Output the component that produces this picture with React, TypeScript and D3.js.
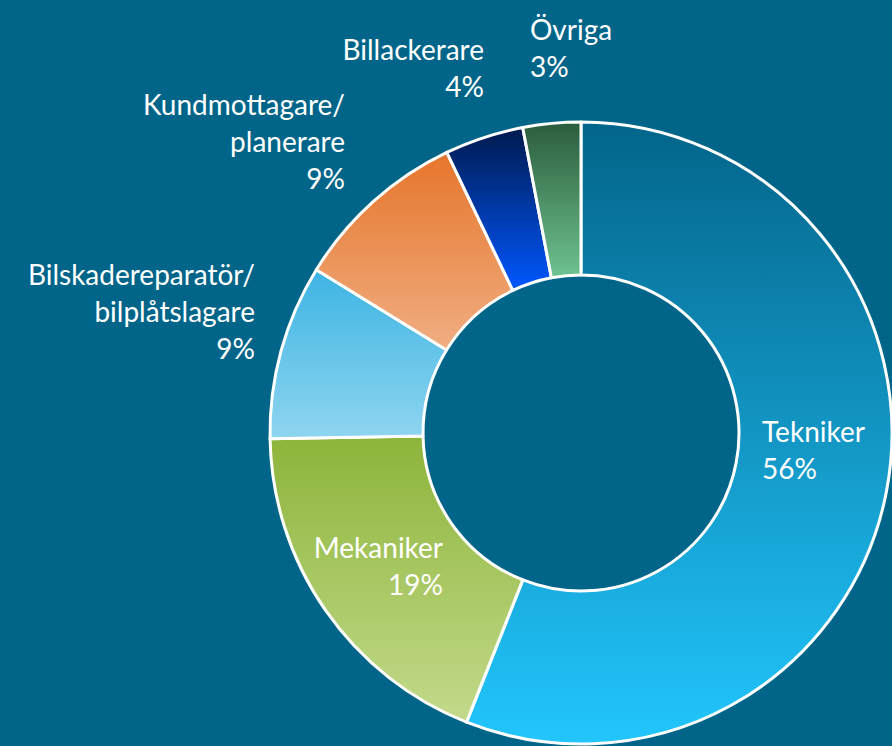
import React from 'react';
import * as d3 from 'd3';

// share of employees per occupation (%), clockwise from 12 o'clock
const categories = ['Tekniker', 'Mekaniker', 'Bilskadereparatör/bilplåtslagare', 'Kundmottagare/planerare', 'Billackerare', 'Övriga'];
const values = [56.0, 18.7, 9.1, 9.1, 4.1, 3.0];
const labelLines = [
  ['Tekniker', '56%'],
  ['Mekaniker', '19%'],
  ['Bilskadereparatör/', 'bilplåtslagare', '9%'],
  ['Kundmottagare/', 'planerare', '9%'],
  ['Billackerare', '4%'],
  ['Övriga', '3%'],
];
const gradTop = ['#03658a', '#8db43a', '#3db4e3', '#e6752b', '#001a4d', '#2b5c3c'];
const gradBottom = ['#22c6fd', '#c3da8b', '#8fd5f0', '#f0ae82', '#0057ff', '#6ec291'];

const width = 892;
const height = 746;
const cx = 581;
const cy = 433;
const outerR = 311;
const innerR = 158;

// label anchor per slice: x, first baseline, anchor
const labelPos: [number, number, 'start' | 'end'][] = [
  [762, 442, 'start'],
  [443, 558, 'end'],
  [255, 285, 'end'],
  [345, 115, 'end'],
  [484, 60, 'end'],
  [530, 40, 'start'],
];
const lineGap = 37;

const App = () => {
  const pie = d3.pie<number>().sort(null).value(d => d);
  const arcs = pie(values);
  const arc = d3.arc<d3.PieArcDatum<number>>().innerRadius(innerR).outerRadius(outerR);

  return (
    <svg
      width={width}
      height={height}
      style={{ position: 'absolute', left: 0, top: 0, background: '#006589' }}
    >
      <defs>
        {categories.map((c, i) => (
          <linearGradient key={c} id={`g${i}`} x1="0" y1="0" x2="0" y2="1">
            <stop offset="0%" stopColor={gradTop[i]} />
            <stop offset="100%" stopColor={gradBottom[i]} />
          </linearGradient>
        ))}
      </defs>
      <rect width={width} height={height} fill="#006589" />
      <g transform={`translate(${cx},${cy})`}>
        {arcs.map((a, i) => (
          <path
            key={categories[i]}
            d={arc(a) || ''}
            fill={`url(#g${i})`}
            stroke="#ffffff"
            strokeWidth={3}
            strokeLinejoin="round"
          />
        ))}
      </g>
      <g fontFamily="Lato, 'Open Sans', sans-serif" fontSize={28} fill="#ffffff">
        {labelLines.map((lines, i) => (
          <text key={categories[i]} textAnchor={labelPos[i][2]}>
            {lines.map((t, j) => (
              <tspan key={j} x={labelPos[i][0]} y={labelPos[i][1] + j * lineGap}>
                {t}
              </tspan>
            ))}
          </text>
        ))}
      </g>
    </svg>
  );
};

export default App;
